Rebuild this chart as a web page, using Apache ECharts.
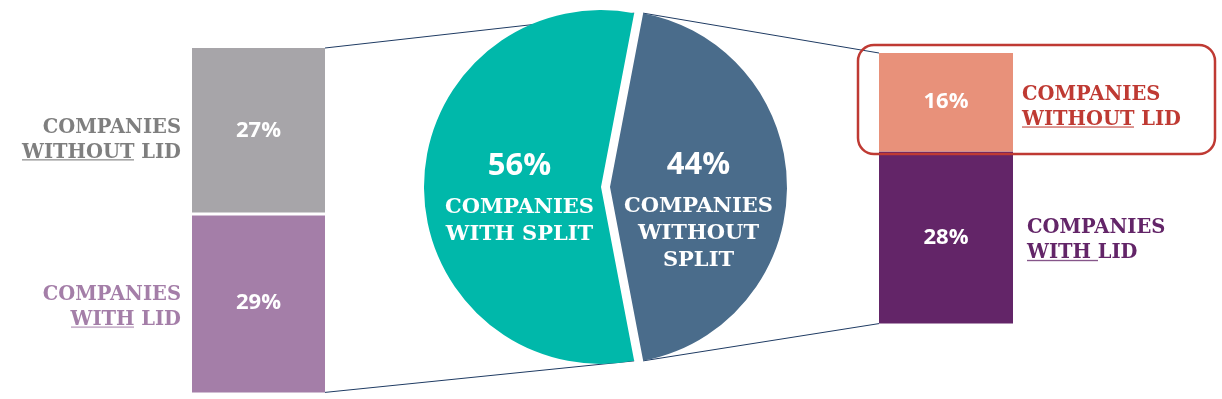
<!DOCTYPE html>
<html>
<head>
<meta charset="utf-8">
<title>Split / LID breakdown</title>
<script src="https://cdn.jsdelivr.net/npm/echarts@6/dist/echarts.min.js"></script>
<style>
html,body{margin:0;padding:0;background:#fff;}
#main{width:1222px;height:399px;}
</style>
</head>
<body>
<div id="main"></div>
<script>
// pie: companies with / without a split
var pieNames = ['COMPANIES\nWITH SPLIT', 'COMPANIES\nWITHOUT\nSPLIT'];
var pieValues = [56, 44];
// stacked bars, bottom segment first: [with LID, without LID]
var lidWords = ['WITH', 'WITHOUT'];
var withSplitLid = [29, 27];
var withoutSplitLid = [28, 16];

var pieColors = ['#00B8AA', '#4A6C8B'];
var leftFill = ['#A47EA8', '#A7A5A9'];
var leftText = ['#A47EA8', '#7F7F7F'];
var rightFill = ['#632568', '#E8917A'];
var rightText = ['#632568', '#BF3A33'];

var SERIF = 'DejaVu Serif';
var SANS = 'Open Sans';
var PX_PER_PCT = 6.15;
var PIE_C = [605.5, 187], PIE_R = 177, PIE_OFF = 4.5;

function sum(a) { return a.reduce(function (s, v) { return s + v; }, 0); }

// little canvas used as the background of a rich span -> draws an underline
function underline(color) {
	var c = document.createElement('canvas');
	c.width = 4; c.height = 25;
	var ctx = c.getContext('2d');
	ctx.fillStyle = color;
	ctx.fillRect(0, 21, 4, 1.4);
	return c;
}

function sideRich(color) {
	return {
		n: {fontFamily: SERIF, fontWeight: 'bold', fontSize: 19.5, lineHeight: 25, color: color},
		u: {fontFamily: SERIF, fontWeight: 'bold', fontSize: 19.5, lineHeight: 25, color: color,
			backgroundColor: {image: underline(color)}}
	};
}

// one grid = real stacked bar + a transparent twin stack that carries the side text
function barSeries(g, values, fills, texts, side, dists, offs, wordSpace) {
	var out = [];
	values.forEach(function (v, i) {
		out.push({
			type: 'bar', xAxisIndex: g, yAxisIndex: g, stack: 'bar' + g,
			data: [v], barWidth: '100%', barGap: '-100%', silent: true,
			itemStyle: {color: fills[i]},
			label: {show: true, position: 'inside', formatter: '{c}%', color: '#fff',
				fontFamily: SANS, fontWeight: 'bold', fontSize: 22}
		});
	});
	values.forEach(function (v, i) {
		var w = lidWords[i];
		var txt = wordSpace[i] ? '{n|COMPANIES}\n{u|' + w + ' }{n|LID}' : '{n|COMPANIES}\n{u|' + w + '}{n| LID}';
		out.push({
			type: 'bar', xAxisIndex: g, yAxisIndex: g, stack: 'txt' + g,
			data: [v], barWidth: '100%', barGap: '-100%', silent: true,
			itemStyle: {color: 'rgba(0,0,0,0)'},
			label: {show: true, position: side, distance: dists[i], offset: offs[i],
				formatter: txt, rich: sideRich(texts[i])}
		});
	});
	return out;
}

var leftTotal = sum(withSplitLid), rightTotal = sum(withoutSplitLid);
var grids = [
	{left: 192, top: 48, width: 133, height: leftTotal * PX_PER_PCT},
	{left: 879, top: 53, width: 134, height: rightTotal * PX_PER_PCT}
];

var chart = echarts.init(document.getElementById('main'));

var series = [];
series = series.concat(barSeries(0, withSplitLid, leftFill, leftText, 'left', [11, 11], [[0, 4], [0, 9]], [false, false]));
series = series.concat(barSeries(1, withoutSplitLid, rightFill, rightText, 'right', [14, 9], [[0, 3], [0, 5]], [true, false]));

var pieTotal = sum(pieValues);
var startAngle = pieValues[1] / pieTotal * 180;
// padding shifts the label block inside each slice [top, right, bottom, left]
var piePad = [[12, 0, 0, 20], [38, 6, 0, 0]];

series.push({
	type: 'pie', center: PIE_C, radius: PIE_R,
	startAngle: startAngle, clockwise: false,
	selectedMode: 'multiple', selectedOffset: PIE_OFF,
	silent: true, z: 3,
	data: pieValues.map(function (v, i) {
		return {value: v, name: pieNames[i], selected: true,
			itemStyle: {color: pieColors[i]},
			select: {itemStyle: {color: pieColors[i]}},
			label: {padding: piePad[i]}};
	}),
	label: {
		show: true, position: 'inner',
		formatter: function (p) {
			return '{p|' + p.value + '%}\n{n|' + p.name.split('\n').join('}\n{n|') + '}';
		},
		rich: {
			p: {fontFamily: SANS, fontWeight: 'bold', fontSize: 31, lineHeight: 56, color: '#fff'},
			n: {fontFamily: SERIF, fontWeight: 'bold', fontSize: 21, lineHeight: 27, color: '#fff'}
		}
	},
	labelLine: {show: false}
});

chart.setOption({
	animation: false,
	grid: grids,
	xAxis: [0, 1].map(function (g) { return {type: 'category', gridIndex: g, data: ['x'], show: false}; }),
	yAxis: [leftTotal, rightTotal].map(function (t, g) {
		return {type: 'value', gridIndex: g, min: 0, max: t, show: false};
	}),
	series: series
});

// connector lines from slice edges to the bars, plus the highlight box
function slicePoint(idx, which) {
	var a0 = startAngle, spans = pieValues.map(function (v) { return v / pieTotal * 360; });
	for (var k = 0; k < idx; k++) a0 += spans[k];
	var a1 = a0 + spans[idx], mid = (a0 + a1) / 2 * Math.PI / 180;
	var cx = PIE_C[0] + PIE_OFF * Math.cos(mid), cy = PIE_C[1] - PIE_OFF * Math.sin(mid);
	var a = (which ? a1 : a0) * Math.PI / 180;
	return [cx + PIE_R * Math.cos(a), cy - PIE_R * Math.sin(a)];
}
var lTop = chart.convertToPixel({yAxisIndex: 0}, leftTotal);
var lBot = chart.convertToPixel({yAxisIndex: 0}, 0);
var lMid = chart.convertToPixel({yAxisIndex: 0}, withSplitLid[0]);
var rTop = chart.convertToPixel({yAxisIndex: 1}, rightTotal);
var rBot = chart.convertToPixel({yAxisIndex: 1}, 0);
var lx = grids[0].left + grids[0].width, rx = grids[1].left;
var lineStyle = {stroke: '#1F3B63', lineWidth: 1};

function seg(p, q) {
	return {type: 'line', z: 0, silent: true, shape: {x1: p[0], y1: p[1], x2: q[0], y2: q[1]}, style: lineStyle};
}

chart.setOption({
	graphic: [
		seg([lx, lTop], slicePoint(0, 0)),
		seg([lx, lBot], slicePoint(0, 1)),
		seg(slicePoint(1, 1), [rx, rTop]),
		seg(slicePoint(1, 0), [rx, rBot]),
		// white gap between the two left segments
		{type: 'rect', z: 10, silent: true,
			shape: {x: grids[0].left, y: lMid - 1.5, width: grids[0].width, height: 3},
			style: {fill: '#fff'}},
		{type: 'rect', z: 10, silent: true,
			shape: {x: rx - 21, y: rTop - 8, width: 357, height: 109, r: 16},
			style: {fill: 'none', stroke: '#BF3A33', lineWidth: 2.5}}
	]
});
</script>
</body>
</html>
